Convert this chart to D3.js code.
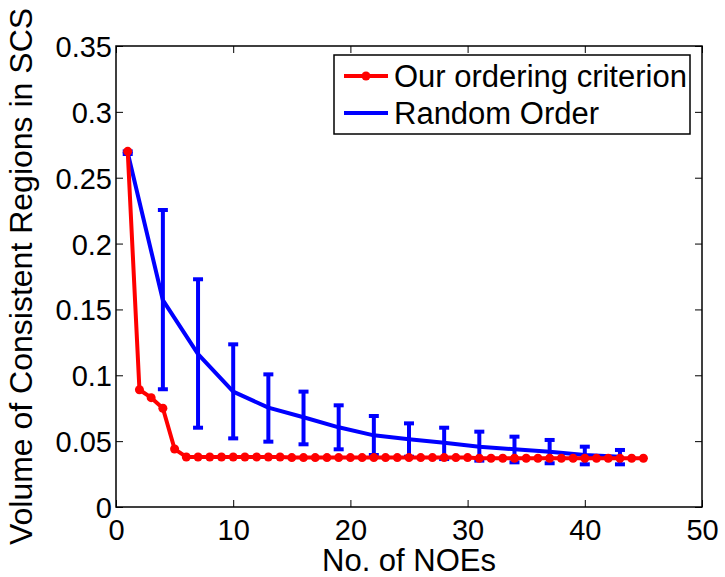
<!DOCTYPE html>
<html>
<head>
<meta charset="utf-8">
<script src="https://cdn.jsdelivr.net/npm/d3@7"></script>
<style>
  body { margin: 0; background: #fff; }
  svg text { font-family: "Liberation Sans", Arial, sans-serif; fill: #000; }
</style>
</head>
<body>
<svg id="chart"></svg>
<script>
// "Our ordering criterion" - one value per NOE count 1..45
const ourX = d3.range(1, 46);
const ourY = [0.270, 0.089, 0.083, 0.075, 0.044, 0.038, 0.038, 0.038, 0.038, 0.038,
              0.038, 0.038, 0.038, 0.038, 0.0375, 0.0375, 0.0375, 0.0375, 0.0375, 0.0375,
              0.0375, 0.0375, 0.0375, 0.0375, 0.0375, 0.0375, 0.0375, 0.0375, 0.0375, 0.0375,
              0.037, 0.037, 0.037, 0.037, 0.037, 0.037, 0.037, 0.037, 0.037, 0.037,
              0.037, 0.037, 0.037, 0.037, 0.037];

// "Random Order" - mean with error bars, every 3 NOEs
const randX    = [1, 4, 7, 10, 13, 16, 19, 22, 25, 28, 31, 34, 37, 40, 43];
const randMean = [0.269, 0.157, 0.116, 0.0876, 0.0754, 0.0681, 0.0605, 0.0544, 0.0514, 0.0488, 0.0458, 0.0438, 0.042, 0.0395, 0.0382];
const randLow  = [0.268, 0.0894, 0.0602, 0.0521, 0.0496, 0.0476, 0.0438, 0.0395, 0.0382, 0.0364, 0.0352, 0.0339, 0.0332, 0.0324, 0.0324];
const randHigh = [0.270, 0.2255, 0.1729, 0.1235, 0.1007, 0.0876, 0.0772, 0.0691, 0.0635, 0.0602, 0.0572, 0.0534, 0.0509, 0.0458, 0.0433];

const xTicks = [0, 10, 20, 30, 40, 50];
const yTicks = [0, 0.05, 0.1, 0.15, 0.2, 0.25, 0.3, 0.35];

const width = 725, height = 577;
const margin = {top: 46, right: 23, bottom: 70, left: 116};
const innerW = width - margin.left - margin.right;
const innerH = height - margin.top - margin.bottom;

const svg = d3.select("#chart")
    .attr("width", width)
    .attr("height", height);

const g = svg.append("g")
    .attr("transform", `translate(${margin.left},${margin.top})`);

const xScale = d3.scaleLinear().domain([0, 50]).range([0, innerW]);
const yScale = d3.scaleLinear().domain([0, 0.35]).range([innerH, 0]);

const fontSize = 29;
const titleSize = 31;
const tickLen = 7;

// axes (MATLAB style, ticks inward on all four sides)
const xAxis = d3.axisBottom(xScale).tickValues(xTicks).tickSizeInner(-tickLen).tickSizeOuter(0)
    .tickPadding(12).tickFormat(d3.format("d"));
const yAxis = d3.axisLeft(yScale).tickValues(yTicks).tickSizeInner(-tickLen).tickSizeOuter(0)
    .tickPadding(4).tickFormat(d => d === 0 ? "0" : String(+d.toFixed(2)));
const xTop = d3.axisTop(xScale).tickValues(xTicks).tickSizeInner(-tickLen).tickSizeOuter(0).tickFormat("");
const yRight = d3.axisRight(yScale).tickValues(yTicks).tickSizeInner(-tickLen).tickSizeOuter(0).tickFormat("");

const xAxisG = g.append("g").attr("transform", `translate(0,${innerH})`).call(xAxis);
const yAxisG = g.append("g").call(yAxis);
g.append("g").call(xTop);
g.append("g").attr("transform", `translate(${innerW},0)`).call(yRight);

g.selectAll(".domain").remove();
g.selectAll(".tick line").attr("stroke", "#000").attr("stroke-width", 1);
xAxisG.selectAll("text").attr("font-size", fontSize).attr("dy", "0.72em");
yAxisG.selectAll("text").attr("font-size", fontSize).attr("dy", "0.36em");

g.append("rect")
    .attr("width", innerW)
    .attr("height", innerH)
    .attr("fill", "none")
    .attr("stroke", "#000")
    .attr("stroke-width", 1.5);

// axis titles
svg.append("text")
    .attr("x", margin.left + innerW / 2)
    .attr("y", 571)
    .attr("text-anchor", "middle")
    .attr("font-size", titleSize)
    .text("No. of NOEs");

svg.append("text")
    .attr("transform", `translate(32,${margin.top + innerH / 2}) rotate(-90)`)
    .attr("text-anchor", "middle")
    .attr("font-size", 32)
    .text("Volume of Consistent Regions in SCS");

// random order: line + error bars
const plot = g.append("g");
const randData = randX.map((x, i) => ({x, m: randMean[i], lo: randLow[i], hi: randHigh[i]}));
const blue = "#0000ff", red = "#ff0000";

plot.append("path")
    .datum(randData)
    .attr("fill", "none")
    .attr("stroke", blue)
    .attr("stroke-width", 4)
    .attr("stroke-linejoin", "round")
    .attr("d", d3.line().x(d => xScale(d.x)).y(d => yScale(d.m)));

const capW = 5;
const bars = plot.selectAll(".errbar").data(randData).join("g").attr("class", "errbar");
bars.append("line")
    .attr("x1", d => xScale(d.x)).attr("x2", d => xScale(d.x))
    .attr("y1", d => yScale(d.lo)).attr("y2", d => yScale(d.hi))
    .attr("stroke", blue).attr("stroke-width", 4);
bars.selectAll(".cap").data(d => [[d.x, d.lo], [d.x, d.hi]]).join("line")
    .attr("class", "cap")
    .attr("x1", d => xScale(d[0]) - capW).attr("x2", d => xScale(d[0]) + capW)
    .attr("y1", d => yScale(d[1])).attr("y2", d => yScale(d[1]))
    .attr("stroke", blue).attr("stroke-width", 4);

// our ordering criterion
const ourData = ourX.map((x, i) => ({x, y: ourY[i]}));
plot.append("path")
    .datum(ourData)
    .attr("fill", "none")
    .attr("stroke", red)
    .attr("stroke-width", 4)
    .attr("stroke-linejoin", "round")
    .attr("d", d3.line().x(d => xScale(d.x)).y(d => yScale(d.y)));

plot.selectAll(".dot").data(ourData).join("circle")
    .attr("class", "dot")
    .attr("cx", d => xScale(d.x))
    .attr("cy", d => yScale(d.y))
    .attr("r", 4.5)
    .attr("fill", red);

// legend
const legend = svg.append("g").attr("transform", "translate(334,55)");
legend.append("rect")
    .attr("width", 356).attr("height", 79)
    .attr("fill", "#fff").attr("stroke", "#000").attr("stroke-width", 1.5);

const legendItems = [
    {label: "Our ordering criterion", color: red, marker: true},
    {label: "Random Order", color: blue, marker: false}
];
const li = legend.selectAll(".item").data(legendItems).join("g")
    .attr("transform", (d, i) => `translate(0,${21 + i * 37})`);
li.append("line")
    .attr("x1", 10).attr("x2", 54)
    .attr("stroke", d => d.color).attr("stroke-width", 4);
li.filter(d => d.marker).append("circle")
    .attr("cx", 32).attr("r", 4.5).attr("fill", d => d.color);
li.append("text")
    .attr("x", 60)
    .attr("dy", "0.36em")
    .attr("font-size", titleSize)
    .text(d => d.label);
</script>
</body>
</html>
